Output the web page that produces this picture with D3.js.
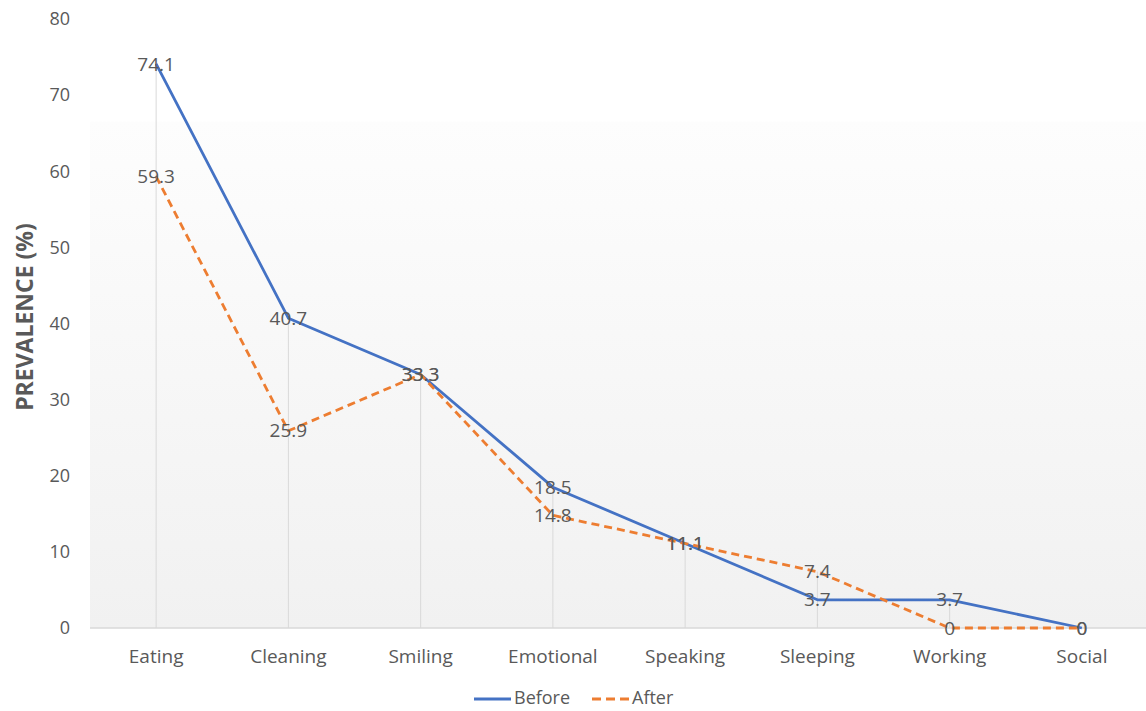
<!DOCTYPE html>
<html>
<head>
<meta charset="utf-8">
<script src="https://cdn.jsdelivr.net/npm/d3@7"></script>
<style>
  html, body { margin: 0; padding: 0; background: #fff; }
  svg { display: block; font-family: "Open Sans", sans-serif; }
</style>
</head>
<body>
<svg id="chart" width="1146" height="711"></svg>
<script>
// Activity categories and prevalence (%) before / after
const categories = ["Eating", "Cleaning", "Smiling", "Emotional", "Speaking", "Sleeping", "Working", "Social"];
const beforeValues = [74.1, 40.7, 33.3, 18.5, 11.1, 3.7, 3.7, 0];
const afterValues = [59.3, 25.9, 33.3, 14.8, 11.1, 7.4, 0, 0];
const yTicks = [0, 10, 20, 30, 40, 50, 60, 70, 80];
const seriesNames = ["Before", "After"];

const W = 1146, H = 711;
const plot = { left: 90, right: 1148, top: 19, bottom: 628 };
const textColor = "#595959";
const fontSize = 19;

const svg = d3.select("#chart");

const x = d3.scaleBand().domain(categories).range([plot.left, plot.right]);
const cx = d => x(d) + x.bandwidth() / 2;
const y = d3.scaleLinear().domain([0, 80]).range([plot.bottom, plot.top]);

// Plot area background: soft vertical gradient
const defs = svg.append("defs");
const grad = defs.append("linearGradient").attr("id", "bg").attr("x1", 0).attr("y1", 0).attr("x2", 0).attr("y2", 1);
grad.append("stop").attr("offset", 0).attr("stop-color", "#ffffff");
grad.append("stop").attr("offset", 0.168).attr("stop-color", "#ffffff");
grad.append("stop").attr("offset", 0.169).attr("stop-color", "#fdfdfd");
grad.append("stop").attr("offset", 1).attr("stop-color", "#f1f1f1");

svg.append("rect")
  .attr("x", plot.left).attr("y", plot.top)
  .attr("width", W - plot.left).attr("height", plot.bottom - plot.top)
  .attr("fill", "url(#bg)");

// Drop lines from the higher point of each category to the axis
svg.append("g").selectAll("line")
  .data(categories)
  .join("line")
  .attr("x1", d => cx(d)).attr("x2", d => cx(d))
  .attr("y1", (d, i) => y(Math.max(beforeValues[i], afterValues[i])))
  .attr("y2", plot.bottom)
  .attr("stroke", "#d9d9d9").attr("stroke-width", 1);

// Category axis
const xAxis = svg.append("g")
  .attr("transform", `translate(0,${plot.bottom})`)
  .call(d3.axisBottom(x).tickSize(0).tickPadding(22));
xAxis.select(".domain").remove();
xAxis.append("line")
  .attr("x1", plot.left).attr("x2", W)
  .attr("stroke", "#d9d9d9").attr("stroke-width", 1.3);
xAxis.selectAll("text")
  .attr("fill", textColor).attr("font-size", fontSize).attr("font-family", "'Open Sans', sans-serif");

// Value axis (labels only)
const yAxis = svg.append("g")
  .attr("transform", `translate(${plot.left - 20},0)`)
  .call(d3.axisLeft(y).tickValues(yTicks).tickSize(0).tickPadding(0));
yAxis.select(".domain").remove();
yAxis.selectAll("text")
  .attr("fill", textColor).attr("font-size", 18).attr("font-family", "'Open Sans', sans-serif");

// Axis title
svg.append("text")
  .attr("transform", `translate(33,317) rotate(-90)`)
  .attr("text-anchor", "middle")
  .attr("fill", textColor).attr("font-size", 23).attr("font-weight", "bold")
  .text("PREVALENCE (%)");

const line = d3.line().x((d, i) => cx(categories[i])).y(d => y(d));

const series = [
  { name: seriesNames[0], values: beforeValues, color: "#4472C4", dash: null },
  { name: seriesNames[1], values: afterValues, color: "#ED7D31", dash: "8,5" }
];

series.forEach(s => {
  svg.append("path")
    .datum(s.values)
    .attr("d", line)
    .attr("fill", "none")
    .attr("stroke", s.color)
    .attr("stroke-width", 2.8)
    .attr("stroke-dasharray", s.dash)
    .attr("stroke-linejoin", "round");
});

// Data labels centred on each point
series.forEach(s => {
  svg.append("g").selectAll("text")
    .data(s.values)
    .join("text")
    .attr("x", (d, i) => cx(categories[i]))
    .attr("y", d => y(d))
    .attr("dy", "0.35em")
    .attr("text-anchor", "middle")
    .attr("fill", textColor)
    .attr("font-size", fontSize)
    .text(d => d);
});

// Legend
const legend = svg.append("g").attr("transform", "translate(0,698)");
const legendItems = [
  { x: 474, s: series[0] },
  { x: 592, s: series[1] }
];
legendItems.forEach(item => {
  legend.append("line")
    .attr("x1", item.x).attr("x2", item.x + 37)
    .attr("y1", 1).attr("y2", 1)
    .attr("stroke", item.s.color).attr("stroke-width", 2.8)
    .attr("stroke-dasharray", item.s.dash ? "9,5" : null);
  legend.append("text")
    .attr("x", item.x + 40).attr("y", 0).attr("dy", "0.35em")
    .attr("fill", textColor).attr("font-size", 18)
    .text(item.s.name);
});
</script>
</body>
</html>
